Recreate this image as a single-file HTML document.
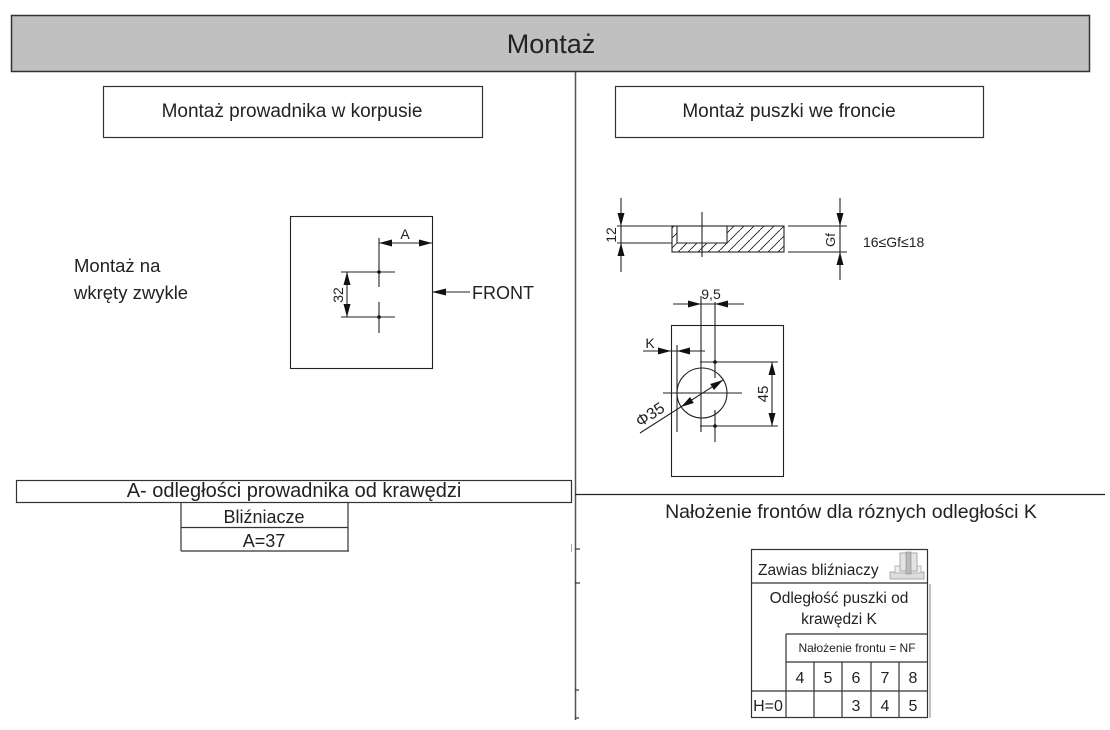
<!DOCTYPE html>
<html><head><meta charset="utf-8"><style>
html,body{margin:0;padding:0;background:#fff;}
svg{display:block;}
text{font-family:"Liberation Sans",sans-serif;fill:#222;}
</style></head><body>
<svg width="1110" height="730" viewBox="0 0 1110 730" xmlns="http://www.w3.org/2000/svg">
<defs>
<pattern id="h" patternUnits="userSpaceOnUse" width="10" height="10">
<line x1="-1" y1="11" x2="11" y2="-1" stroke="#222" stroke-width="0.9"/>
</pattern>
</defs>
<!-- title -->
<rect x="11.5" y="15.5" width="1078" height="56" fill="#c0c0c0" stroke="#333" stroke-width="1.5"/>
<text x="551" y="53" font-size="27" text-anchor="middle">Montaż</text>
<!-- divider -->
<line x1="575.5" y1="72" x2="575.5" y2="720" stroke="#555" stroke-width="1.5"/>
<g stroke="#333" stroke-width="1.2">
<line x1="575" y1="549" x2="580" y2="549"/>
<line x1="575" y1="583" x2="580" y2="583"/>
<line x1="575" y1="690" x2="579" y2="690"/>
<line x1="575" y1="718" x2="579" y2="718"/>
</g>
<line x1="571.5" y1="544" x2="571.5" y2="552" stroke="#aaa" stroke-width="1"/>
<!-- section boxes -->
<rect x="103.5" y="86.5" width="379" height="51" fill="#fff" stroke="#333" stroke-width="1.2"/>
<text x="292" y="117" font-size="19" text-anchor="middle">Montaż prowadnika w korpusie</text>
<rect x="615.5" y="86.5" width="368" height="51" fill="#fff" stroke="#333" stroke-width="1.2"/>
<text x="789" y="117" font-size="19" text-anchor="middle">Montaż puszki we froncie</text>

<!-- left text -->
<text x="74" y="272" font-size="18.5">Montaż na</text>
<text x="74" y="299" font-size="18.5">wkręty zwykle</text>

<!-- left drawing -->
<g stroke="#222" stroke-width="1.1" fill="none">
<rect x="290.5" y="216.5" width="142" height="152"/>
<line x1="379" y1="238" x2="379" y2="287"/>
<line x1="379" y1="302" x2="379" y2="333"/>
<line x1="379" y1="243" x2="432" y2="243"/>
<line x1="341" y1="272" x2="395" y2="272"/>
<line x1="341" y1="317" x2="395" y2="317"/>
<line x1="347" y1="272" x2="347" y2="317"/>
<line x1="432" y1="292" x2="470" y2="292"/>
</g>
<g fill="#111">
<polygon points="379,243 392,239.5 392,246.5"/>
<polygon points="432,243 419,239.5 419,246.5"/>
<polygon points="347,272 343.5,285 350.5,285"/>
<polygon points="347,317 343.5,304 350.5,304"/>
<polygon points="432,292 446,288.5 446,295.5"/>
<circle cx="379" cy="272" r="1.8"/>
<circle cx="379" cy="317" r="1.8"/>
</g>
<text x="405" y="239" font-size="14" text-anchor="middle">A</text>
<text transform="translate(343,295) rotate(-90)" font-size="14" text-anchor="middle">32</text>
<text x="472" y="299" font-size="18">FRONT</text>

<!-- right top drawing -->
<path d="M672,226 H784 V252 H672 Z M677,226 V243 H727 V226 Z" fill="url(#h)" fill-rule="evenodd" stroke="none"/>
<g stroke="#222" stroke-width="1.1" fill="none">
<line x1="621" y1="198" x2="621" y2="272"/>
<line x1="617" y1="226" x2="784" y2="226"/>
<line x1="617" y1="243" x2="672" y2="243"/>
<rect x="672" y="226" width="112" height="26"/>
<polyline points="677,226 677,243 727,243 727,226"/>
<line x1="702" y1="212" x2="702" y2="257"/>
<line x1="788" y1="226" x2="847" y2="226"/>
<line x1="788" y1="252" x2="847" y2="252"/>
<line x1="840" y1="198" x2="840" y2="280"/>
</g>
<g fill="#111">
<polygon points="621,226 617.5,213 624.5,213"/>
<polygon points="621,243 617.5,256 624.5,256"/>
<polygon points="840,226 836.5,213 843.5,213"/>
<polygon points="840,252 836.5,265 843.5,265"/>
</g>
<text transform="translate(616,235) rotate(-90)" font-size="14" text-anchor="middle">12</text>
<text transform="translate(835,240) rotate(-90)" font-size="13" text-anchor="middle">Gf</text>
<text x="863" y="247" font-size="14">16≤Gf≤18</text>

<!-- right lower drawing -->
<g stroke="#222" stroke-width="1.1" fill="none">
<rect x="671.5" y="325.5" width="112" height="151"/>
<line x1="673" y1="304" x2="744" y2="304"/>
<line x1="701" y1="296" x2="701" y2="432"/>
<line x1="715" y1="302" x2="715" y2="378"/>
<line x1="715" y1="410" x2="715" y2="442"/>
<line x1="643" y1="351" x2="705" y2="351"/>
<line x1="677" y1="345" x2="677" y2="432"/>
<line x1="700" y1="362" x2="778" y2="362"/>
<line x1="700" y1="426" x2="778" y2="426"/>
<line x1="772" y1="362" x2="772" y2="426"/>
<circle cx="702" cy="393" r="25"/>
<line x1="663" y1="393" x2="742" y2="393"/>
<line x1="640" y1="433" x2="723" y2="380"/>
</g>
<g fill="#111">
<polygon points="701,304 688,300.5 688,307.5"/>
<polygon points="715,304 728,300.5 728,307.5"/>
<polygon points="671,351 658,347.5 658,354.5"/>
<polygon points="677,351 690,347.5 690,354.5"/>
<polygon points="772,362 768.5,375 775.5,375"/>
<polygon points="772,426 768.5,413 775.5,413"/>
<polygon points="723,380 714,390 710.2,384"/>
<polygon points="681,407 693.8,403 690,397"/>
<circle cx="715" cy="362" r="1.8"/>
<circle cx="715" cy="426" r="1.8"/>
</g>
<text x="711" y="299" font-size="14" text-anchor="middle">9,5</text>
<text x="650" y="348" font-size="14" text-anchor="middle">K</text>
<text transform="translate(768,394) rotate(-90)" font-size="15" text-anchor="middle">45</text>
<text transform="translate(653,419) rotate(-33)" font-size="16" text-anchor="middle">Φ35</text>

<!-- bottom-left table -->
<g stroke="#333" stroke-width="1.2" fill="none">
<rect x="16.5" y="480.5" width="555" height="22"/>
<line x1="181" y1="503" x2="181" y2="551"/>
<line x1="348" y1="503" x2="348" y2="551"/>
<line x1="181" y1="527.5" x2="348" y2="527.5"/>
<line x1="181" y1="551" x2="349" y2="551"/>
</g>
<text x="294" y="497" font-size="20" text-anchor="middle">A- odległości prowadnika od krawędzi</text>
<text x="264" y="523" font-size="18" text-anchor="middle">Bliźniacze</text>
<text x="264" y="547" font-size="18" text-anchor="middle">A=37</text>

<!-- right bottom section -->
<line x1="575" y1="494.5" x2="1105" y2="494.5" stroke="#222" stroke-width="1.2"/>
<text x="851" y="518" font-size="19.5" text-anchor="middle">Nałożenie frontów dla róznych odległości K</text>

<g stroke="#333" stroke-width="1.2" fill="none">
<rect x="751.5" y="549.5" width="176" height="168"/>
<line x1="751" y1="583" x2="928" y2="583"/>
<line x1="786" y1="634" x2="928" y2="634"/>
<line x1="786" y1="662" x2="928" y2="662"/>
<line x1="751" y1="691" x2="928" y2="691"/>
<line x1="786" y1="634" x2="786" y2="718"/>
<line x1="814" y1="662" x2="814" y2="718"/>
<line x1="842" y1="662" x2="842" y2="718"/>
<line x1="871" y1="662" x2="871" y2="718"/>
<line x1="899" y1="662" x2="899" y2="718"/>
</g>
<line x1="930" y1="584" x2="930" y2="718" stroke="#999" stroke-width="1.2"/>
<text x="758" y="575" font-size="15.5">Zawias bliźniaczy</text>
<!-- hinge icon -->
<g>
<rect x="890" y="572" width="34" height="7" fill="#ddd" stroke="#999" stroke-width="0.8"/>
<rect x="895" y="566" width="26" height="7" fill="#eee" stroke="#aaa" stroke-width="0.8"/>
<rect x="900" y="553" width="17" height="18" fill="#e4e4e4" stroke="#999" stroke-width="0.8"/>
<rect x="906" y="552" width="5" height="22" fill="#bbb" stroke="#888" stroke-width="0.6"/>
</g>
<text x="839" y="603" font-size="15.5" text-anchor="middle">Odległość puszki od</text>
<text x="839" y="624" font-size="15.5" text-anchor="middle">krawędzi  K</text>
<text x="857" y="652" font-size="12" text-anchor="middle">Nałożenie frontu = NF</text>
<g font-size="16" text-anchor="middle">
<text x="800" y="683">4</text>
<text x="828" y="683">5</text>
<text x="856" y="683">6</text>
<text x="885" y="683">7</text>
<text x="913" y="683">8</text>
<text x="768" y="711">H=0</text>
<text x="856" y="711">3</text>
<text x="885" y="711">4</text>
<text x="913" y="711">5</text>
</g>
</svg>
</body></html>
